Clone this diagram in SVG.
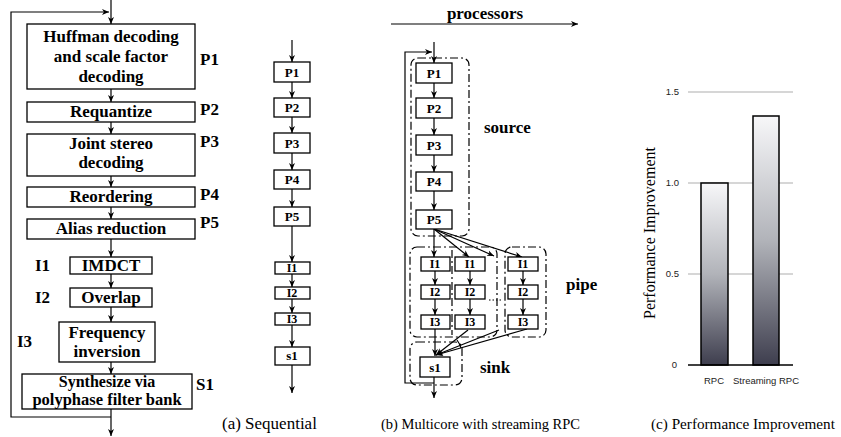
<svg xmlns="http://www.w3.org/2000/svg" width="841" height="437" viewBox="0 0 841 437">
<style>
.bx{fill:#fff;stroke:#000;stroke-width:1.3}
.dd{fill:none;stroke:#000;stroke-width:1.2;stroke-dasharray:8,3,2,3}
.ln{fill:none;stroke:#000;stroke-width:1.2}
.ar{fill:none;stroke:#000;stroke-width:1.2;marker-end:url(#ah)}
.t{font-family:"Liberation Serif",serif;font-weight:bold;font-size:17px;text-anchor:middle;fill:#000}
.tl{font-family:"Liberation Serif",serif;font-weight:bold;font-size:17px;fill:#000}
.ts{font-family:"Liberation Serif",serif;font-weight:bold;font-size:13px;text-anchor:middle;fill:#000}
.ti{font-family:"Liberation Serif",serif;font-weight:bold;font-size:12px;text-anchor:middle;fill:#000}
.cap{font-family:"Liberation Serif",serif;font-size:16px;fill:#000}
.ax{font-family:"Liberation Sans",sans-serif;font-size:9.5px;fill:#222}
.grid{stroke:#c8c8c8;stroke-width:1.5}
.bar{fill:url(#gr);stroke:#000;stroke-width:1.5}
</style>
<defs>
<marker id="ah" markerUnits="userSpaceOnUse" markerWidth="8" markerHeight="8" refX="7" refY="4" orient="auto"><path d="M0,1 L7,4 L0,7 L2,4 z" fill="#000"/></marker>
<linearGradient id="gr" x1="0" y1="0" x2="0" y2="1"><stop offset="0" stop-color="#f7f7f9"/><stop offset="0.5" stop-color="#b1b3b9"/><stop offset="1" stop-color="#3e3e4e"/></linearGradient>
</defs>

<!-- (a) detailed pipeline -->
<g id="connectors-a">
<path class="ar" d="M111,0 V24"/>
<path class="ar" d="M111,409 V436"/>
<path class="ar" d="M111,417 H11 V12 H109"/>
<path class="ar" d="M111,89 V102"/>
<path class="ar" d="M111,122 V134"/>
<path class="ar" d="M111,176 V187"/>
<path class="ar" d="M111,207 V219"/>
<path class="ar" d="M111,239 V257"/>
<path class="ar" d="M111,274 V288"/>
<path class="ar" d="M111,307 V322"/>
<path class="ar" d="M111,362 V374"/>
</g>
<g id="a-huffman"><rect class="bx" x="27" y="24" width="168" height="65"/><text class="t" x="111" y="42">Huffman decoding</text><text class="t" x="111" y="62">and scale factor</text><text class="t" x="111" y="82">decoding</text><text class="tl" x="200" y="65">P1</text></g>
<g id="a-requantize"><rect class="bx" x="27" y="102" width="168" height="20"/><text class="t" x="111" y="117">Requantize</text><text class="tl" x="200" y="115">P2</text></g>
<g id="a-joint"><rect class="bx" x="27" y="134" width="168" height="42"/><text class="t" x="111" y="149">Joint stereo</text><text class="t" x="111" y="168">decoding</text><text class="tl" x="200" y="147">P3</text></g>
<g id="a-reorder"><rect class="bx" x="27" y="187" width="168" height="20"/><text class="t" x="111" y="202">Reordering</text><text class="tl" x="200" y="200">P4</text></g>
<g id="a-alias"><rect class="bx" x="27" y="219" width="168" height="20"/><text class="t" x="111" y="234">Alias reduction</text><text class="tl" x="200" y="228">P5</text></g>
<g id="a-imdct"><rect class="bx" x="70" y="257" width="82" height="17"/><text class="t" x="111" y="271">IMDCT</text><text class="tl" x="35" y="271">I1</text></g>
<g id="a-overlap"><rect class="bx" x="70" y="288" width="82" height="19"/><text class="t" x="111" y="303">Overlap</text><text class="tl" x="35" y="303">I2</text></g>
<g id="a-freq"><rect class="bx" x="59" y="322" width="96" height="40"/><text class="t" x="107" y="338">Frequency</text><text class="t" x="107" y="357">inversion</text><text class="tl" x="17" y="347">I3</text></g>
<g id="a-synth"><rect class="bx" x="22" y="374" width="170" height="35"/><text class="t" x="107" y="387" style="font-size:16px">Synthesize via</text><text class="t" x="107" y="405" style="font-size:16.5px">polyphase filter bank</text><text class="tl" x="196" y="390">S1</text></g>

<!-- (a) sequential -->
<g id="connectors-seq">
<path class="ar" d="M292,40 V62"/>
<path class="ar" d="M292,82 V98"/>
<path class="ar" d="M292,117 V133"/>
<path class="ar" d="M292,153 V170"/>
<path class="ar" d="M292,189 V207"/>
<path class="ar" d="M292,226 V262"/>
<path class="ar" d="M292,274 V287"/>
<path class="ar" d="M292,299 V313"/>
<path class="ar" d="M292,325 V347"/>
<path class="ar" d="M292,365 V393"/>
</g>
<g id="s-p1"><rect class="bx" x="274" y="62" width="36" height="20"/><text class="ts" x="292" y="77">P1</text></g>
<g id="s-p2"><rect class="bx" x="274" y="98" width="36" height="19"/><text class="ts" x="292" y="112">P2</text></g>
<g id="s-p3"><rect class="bx" x="274" y="133" width="36" height="20"/><text class="ts" x="292" y="148">P3</text></g>
<g id="s-p4"><rect class="bx" x="274" y="170" width="36" height="19"/><text class="ts" x="292" y="184">P4</text></g>
<g id="s-p5"><rect class="bx" x="274" y="207" width="36" height="19"/><text class="ts" x="292" y="221">P5</text></g>
<g id="s-i1"><rect class="bx" x="275" y="262" width="35" height="12"/><text class="ti" x="292" y="272">I1</text></g>
<g id="s-i2"><rect class="bx" x="275" y="287" width="35" height="12"/><text class="ti" x="292" y="297">I2</text></g>
<g id="s-i3"><rect class="bx" x="275" y="313" width="35" height="12"/><text class="ti" x="292" y="323">I3</text></g>
<g id="s-s1"><rect class="bx" x="275" y="347" width="35" height="18"/><text class="ts" x="292" y="360">s1</text></g>
<text class="cap" x="222" y="429" style="font-size:17px">(a) Sequential</text>

<!-- (b) multicore -->
<g id="b-processors"><text class="t" x="485" y="19">processors</text><path class="ar" d="M391,24 H578"/></g>
<g id="b-groups">
<rect class="dd" x="411" y="58" width="58" height="178" rx="7"/>
<rect class="dd" x="410" y="247" width="87" height="90" rx="7"/>
<path class="dd" d="M452,250 V335"/>
<rect class="dd" x="505" y="247" width="41" height="90" rx="7"/>
<rect class="dd" x="410" y="342" width="52" height="43" rx="7"/>
<path class="ln" d="M489,300 H503" stroke-dasharray="1.5,2"/>
<text class="tl" x="484" y="133">source</text>
<text class="tl" x="566" y="290">pipe</text>
<text class="tl" x="480" y="373">sink</text>
</g>
<g id="connectors-b">
<path class="ar" d="M434,42 V63"/>
<path class="ar" d="M434,377 V398"/>
<path class="ar" d="M434,383 H405 V52 H432"/>
<path class="ar" d="M434,83 V98"/>
<path class="ar" d="M434,118 V135"/>
<path class="ar" d="M434,155 V172"/>
<path class="ar" d="M434,191 V210"/>
<path class="ar" d="M434,229 V257"/>
<path class="ar" d="M434,229 L469,257"/>
<path class="ar" d="M434,229 L494,256"/>
<path class="ar" d="M434,229 L522,257"/>
<path class="ar" d="M435,271 V285"/><path class="ar" d="M435,299 V315"/>
<path class="ar" d="M470,271 V285"/><path class="ar" d="M470,299 V315"/>
<path class="ar" d="M523,271 V285"/><path class="ar" d="M523,299 V315"/>
<path class="ar" d="M435,329 V356"/>
<path class="ar" d="M468,330 L436,355"/>
<path class="ar" d="M499,330 L436,355"/>
<path class="ar" d="M527,329 L436,355"/>
<path class="ln" d="M457,340 A27,27 0 0 1 461,348"/>
</g>
<g id="b-p1"><rect class="bx" x="416" y="63" width="36" height="20"/><text class="ts" x="434" y="78">P1</text></g>
<g id="b-p2"><rect class="bx" x="416" y="98" width="36" height="20"/><text class="ts" x="434" y="113">P2</text></g>
<g id="b-p3"><rect class="bx" x="416" y="135" width="36" height="20"/><text class="ts" x="434" y="150">P3</text></g>
<g id="b-p4"><rect class="bx" x="416" y="172" width="36" height="19"/><text class="ts" x="434" y="186">P4</text></g>
<g id="b-p5"><rect class="bx" x="416" y="210" width="36" height="19"/><text class="ts" x="434" y="224">P5</text></g>
<g id="b-c1-i1"><rect class="bx" x="421" y="257" width="29" height="14"/><text class="ti" x="435" y="268">I1</text></g>
<g id="b-c1-i2"><rect class="bx" x="421" y="285" width="29" height="14"/><text class="ti" x="435" y="296">I2</text></g>
<g id="b-c1-i3"><rect class="bx" x="421" y="315" width="29" height="14"/><text class="ti" x="435" y="326">I3</text></g>
<g id="b-c2-i1"><rect class="bx" x="455" y="257" width="30" height="14"/><text class="ti" x="470" y="268">I1</text></g>
<g id="b-c2-i2"><rect class="bx" x="455" y="285" width="30" height="14"/><text class="ti" x="470" y="296">I2</text></g>
<g id="b-c2-i3"><rect class="bx" x="455" y="315" width="30" height="14"/><text class="ti" x="470" y="326">I3</text></g>
<g id="b-c3-i1"><rect class="bx" x="508" y="257" width="30" height="14"/><text class="ti" x="523" y="268">I1</text></g>
<g id="b-c3-i2"><rect class="bx" x="508" y="285" width="30" height="14"/><text class="ti" x="523" y="296">I2</text></g>
<g id="b-c3-i3"><rect class="bx" x="508" y="315" width="30" height="14"/><text class="ti" x="523" y="326">I3</text></g>
<g id="b-s1"><rect class="bx" x="420" y="357" width="30" height="20"/><text class="ts" x="435" y="372">s1</text></g>
<text class="cap" x="381" y="429" style="font-size:14.5px">(b) Multicore with streaming RPC</text>

<!-- (c) chart -->
<g id="chart">
<line class="grid" x1="688" y1="92" x2="793" y2="92"/>
<line class="grid" x1="688" y1="183" x2="793" y2="183"/>
<line class="grid" x1="688" y1="274" x2="793" y2="274"/>
<rect class="bar" x="701" y="183" width="27" height="182"/>
<rect class="bar" x="753" y="116" width="26" height="249"/>
<line x1="688" y1="365" x2="793" y2="365" stroke="#000" stroke-width="1.5"/>
<text class="ax" x="679" y="95" text-anchor="end">1.5</text>
<text class="ax" x="679" y="186" text-anchor="end">1.0</text>
<text class="ax" x="679" y="277" text-anchor="end">0.5</text>
<text class="ax" x="677" y="368" text-anchor="end">0</text>
<text class="ax" x="714" y="384" text-anchor="middle">RPC</text>
<text class="ax" x="766" y="384" text-anchor="middle">Streaming RPC</text>
<text class="cap" x="0" y="0" text-anchor="middle" transform="translate(655,233) rotate(-90)">Performance Improvement</text>
</g>
<text class="cap" x="651" y="429" style="font-size:15.2px">(c) Performance Improvement</text>
</svg>
